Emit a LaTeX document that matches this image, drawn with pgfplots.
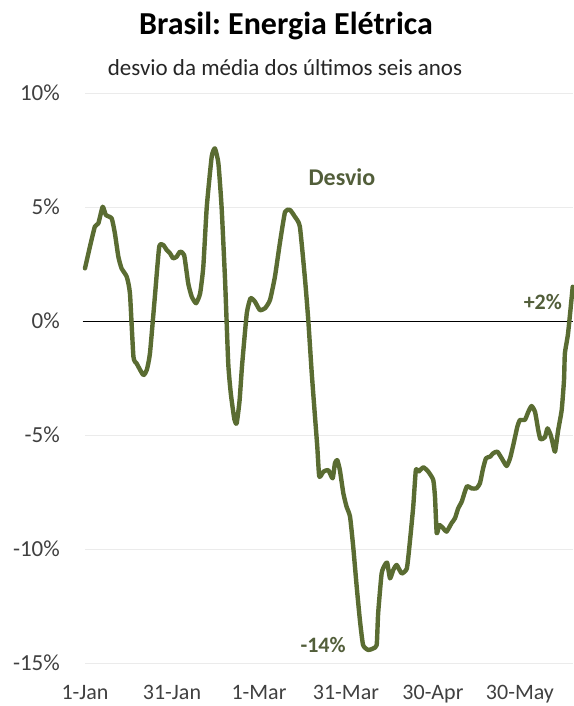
\documentclass[border=0pt]{standalone}
\usepackage{pgfplots}
\pgfplotsset{compat=1.18}
\usepackage{fontspec}
\setmainfont{Carlito}
\frenchspacing
\definecolor{curve}{RGB}{90,108,50}
\definecolor{annot}{RGB}{82,94,58}
\definecolor{ticktext}{RGB}{64,64,64}
\begin{document}
\begin{tikzpicture}[x=1pt,y=1pt]
\begin{axis}[
  at={(85pt,43pt)}, anchor=south west,
  scale only axis, width=488pt, height=570pt,
  xmin=0, xmax=168.3, ymin=-15, ymax=10,
  axis lines=left, axis line style={draw=none},
  major tick length=0pt, tick style={draw=none},
  ytick={-15,-10,-5,0,5,10},
  yticklabels={-15\%,-10\%,-5\%,0\%,5\%,10\%},
  xtick={0,30,60,90,120,150},
  xticklabels={1-Jan,31-Jan,1-Mar,31-Mar,30-Apr,30-May},
  ymajorgrids, grid style={color=black!8, line width=0.8pt},
  yticklabel style={anchor=east, inner sep=0pt, xshift=-25pt, font=\fontsize{23}{27}\selectfont, text=ticktext},
  xticklabel style={anchor=base, inner sep=0pt, yshift=-36pt, font=\fontsize{22}{26}\selectfont, text=ticktext},
  clip=false,
]
\addplot[black, line width=0.9pt] coordinates {(-0.8,0) (168.3,0)};
\addplot[curve, line width=4.4pt, line join=round, line cap=round, smooth, tension=0.3] coordinates {
(0,2.31) (1.7,3.26) (3.4,4.14) (4.6,4.28) (6.1,5.01) (7.2,4.65) (9.2,4.5) (10.3,3.85)
(11.5,2.82) (12.6,2.31) (14.4,1.94) (15.5,1.21) (16.7,-1.56) (17.8,-1.86) (20.1,-2.37)
(21.3,-2.15) (22.4,-1.42) (24.1,1.07) (25.6,3.26) (27,3.33) (28.2,3.11) (29.3,2.97)
(30.4,2.75) (31.6,2.82) (32.8,3.04) (34.2,2.89) (35.6,1.65) (36.8,1.07) (38.3,0.78)
(39.7,1.21) (40.8,2.38) (42,5.01) (43.7,7.21) (44.8,7.57) (46,6.92) (47.1,5.01)
(48.3,1.8) (49.4,-1.86) (50.3,-3.2) (51.5,-4.3) (52.3,-4.49) (53.3,-3.5) (54.2,-1.9)
(55.8,0.34) (57.1,1.0) (58.6,0.85) (60.3,0.48) (62.1,0.56) (63.8,0.92) (65.5,1.94)
(67.2,3.41) (69,4.79) (70.7,4.87) (72.4,4.57) (74.1,4.14) (75.9,1.8) (77,0.04)
(78.2,-2.29) (79.2,-4.0) (80.1,-5.5) (80.8,-6.83) (82.2,-6.61) (83.9,-6.54) (85.4,-6.9)
(86.2,-6.24) (87,-6.1) (87.9,-6.54) (89.1,-7.56) (90.2,-8.14) (91.4,-8.58) (92.5,-9.9)
(93.7,-11.65) (94.8,-13.11) (95.9,-14.21) (97.7,-14.43) (99.4,-14.36) (100.6,-14.21)
(101.1,-12.82) (102.3,-11.07) (103.4,-10.7) (104.2,-10.6) (105.2,-11.29) (106.3,-10.92)
(107.5,-10.7) (109.2,-11.07) (111,-10.85) (112.1,-9.61) (113.2,-8.14) (114.1,-6.54)
(115,-6.61) (116.7,-6.42) (118.4,-6.61) (120.1,-6.97) (120.7,-7.71) (121.3,-9.31)
(122.2,-8.95) (123.6,-9.1) (124.7,-9.24) (126.4,-8.87) (127.6,-8.65) (128.7,-8.22)
(129.9,-7.93) (131,-7.49) (131.8,-7.24) (133.3,-7.34) (135,-7.34) (136.2,-7.12)
(137.3,-6.46) (138.3,-6.02) (139.7,-5.95) (140.8,-5.8) (142.2,-5.73) (143.7,-6.02)
(145.4,-6.36) (146.6,-6.02) (147.7,-5.44) (149.1,-4.64) (150,-4.34) (151.7,-4.34)
(152.9,-3.98) (154,-3.73) (155.2,-3.98) (156.3,-4.78) (157.1,-5.19) (158.6,-5.1)
(159.5,-4.71) (160.6,-5.0) (161.3,-5.36) (162.1,-5.73) (163.2,-4.78) (164.4,-3.9)
(165.2,-2.59) (165.5,-1.42) (166.6,-0.54) (168.2,1.5)
};
\node[text=annot, font=\fontsize{24}{28}\selectfont\bfseries] at (axis cs:88.6,6.3) {Desvio};
\node[text=annot, font=\fontsize{22}{26}\selectfont\bfseries] at (axis cs:157.9,0.83) {+2\%};
\node[text=annot, font=\fontsize{22}{26}\selectfont\bfseries] at (axis cs:82.1,-14.2) {-14\%};
\end{axis}
\node[anchor=base, font=\fontsize{32}{36}\selectfont\bfseries] at (286,671) {Brasil: Energia Elétrica};
\node[anchor=base, font=\fontsize{23}{27}\selectfont, text=black!85] at (285,630) {desvio da média dos últimos seis anos};
\pgfresetboundingbox
\path[use as bounding box] (0,0) rectangle (573,706);
\end{tikzpicture}
\end{document}
